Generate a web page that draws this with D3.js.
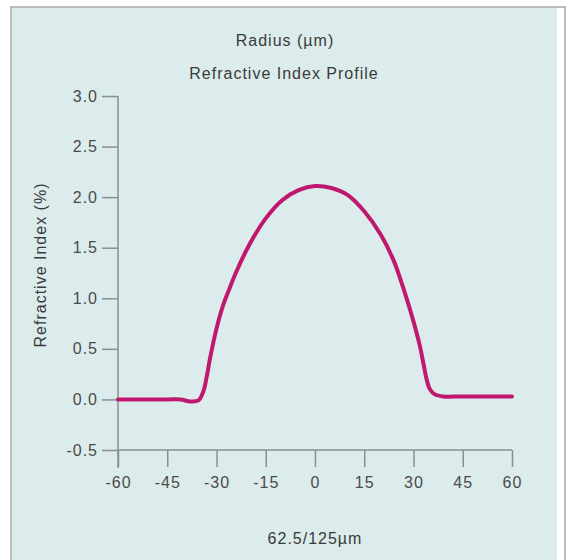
<!DOCTYPE html>
<html>
<head>
<meta charset="utf-8">
<title>Refractive Index Profile</title>
<style>
body { margin: 0; background: #fff; }
text { font-family: 'Liberation Sans', Arial, sans-serif; fill: #3a3a3a; letter-spacing: 1px; }
.axis path, .axis line { stroke: #8a8f90; stroke-width: 1.5px; }
.axis text { font-size: 16px; fill: #4a4a4a; }
</style>
</head>
<body>
<svg width="571" height="560"></svg>
<script src="https://d3js.org/d3.v7.min.js"></script>
<script>
// radius (um) and refractive index delta (%)
var radius = [-60, -45, -41, -38, -35.5, -34, -33, -32, -30, -28, -26, -24, -20, -15, -10, -5, 0, 5, 10, 15, 20, 24, 26, 28, 30, 32, 33, 34, 35, 36.5, 39, 45, 60];
var index  = [0, 0, 0, -0.02, -0.01, 0.08, 0.22, 0.4, 0.7, 0.93, 1.1, 1.26, 1.53, 1.79, 1.97, 2.07, 2.11, 2.09, 2.02, 1.86, 1.63, 1.37, 1.19, 0.99, 0.77, 0.52, 0.36, 0.2, 0.1, 0.05, 0.03, 0.03, 0.03];
var xTicks = [-60, -45, -30, -15, 0, 15, 30, 45, 60];
var yTicks = [-0.5, 0, 0.5, 1, 1.5, 2, 2.5, 3];

var svg = d3.select("svg");

// panel frame
svg.append("rect").attr("x", 11).attr("y", 7).attr("width", 554).attr("height", 560)
  .attr("fill", "#fff").attr("stroke", "#a9a9a9").attr("stroke-width", 1.5);
svg.append("rect").attr("x", 12).attr("y", 8).attr("width", 545).attr("height", 560)
  .attr("fill", "#dcecec");

var x = d3.scaleLinear().domain([-60, 60]).range([118, 512]);
var y = d3.scaleLinear().domain([-0.5, 3]).range([450, 96]);

// y axis (line runs down past the x axis like a tick)
var yAxis = svg.append("g").attr("class", "axis").attr("transform", "translate(118,0)")
  .call(d3.axisLeft(y).tickValues(yTicks).tickSize(16).tickPadding(4)
    .tickFormat(function(d) { return d3.format(".1f")(d).replace("−", "-"); }));
yAxis.select(".domain").remove();
yAxis.append("line").attr("x1", 0).attr("x2", 0).attr("y1", y(3)).attr("y2", 468);

var xAxis = svg.append("g").attr("class", "axis").attr("transform", "translate(0," + y(-0.5) + ")")
  .call(d3.axisBottom(x).tickValues(xTicks).tickSize(17).tickPadding(10)
    .tickFormat(function(d) { return String(d); }));
xAxis.select(".domain").remove();
xAxis.append("line").attr("x1", x(-60)).attr("x2", x(60)).attr("y1", 0).attr("y2", 0);

// titles
svg.append("text").attr("x", 285).attr("y", 46).attr("text-anchor", "middle")
  .style("font-size", "16px").text("Radius (µm)");
svg.append("text").attr("x", 284).attr("y", 79).attr("text-anchor", "middle")
  .style("font-size", "16px").text("Refractive Index Profile");
svg.append("text").attr("x", 315).attr("y", 544).attr("text-anchor", "middle")
  .style("font-size", "16px").text("62.5/125µm");
svg.append("text").attr("transform", "translate(46,265) rotate(-90)").attr("text-anchor", "middle")
  .style("font-size", "16px").text("Refractive Index (%)");

// profile curve
var pts = radius.map(function(r, i) { return [r, index[i]]; });
var line = d3.line()
  .x(function(d) { return x(d[0]); })
  .y(function(d) { return y(d[1]); })
  .curve(d3.curveCatmullRom.alpha(0.5));
svg.append("path").datum(pts)
  .attr("fill", "none")
  .attr("stroke", "#c0186f")
  .attr("stroke-width", 4)
  .attr("stroke-linecap", "round")
  .attr("d", line);
</script>
</body>
</html>
